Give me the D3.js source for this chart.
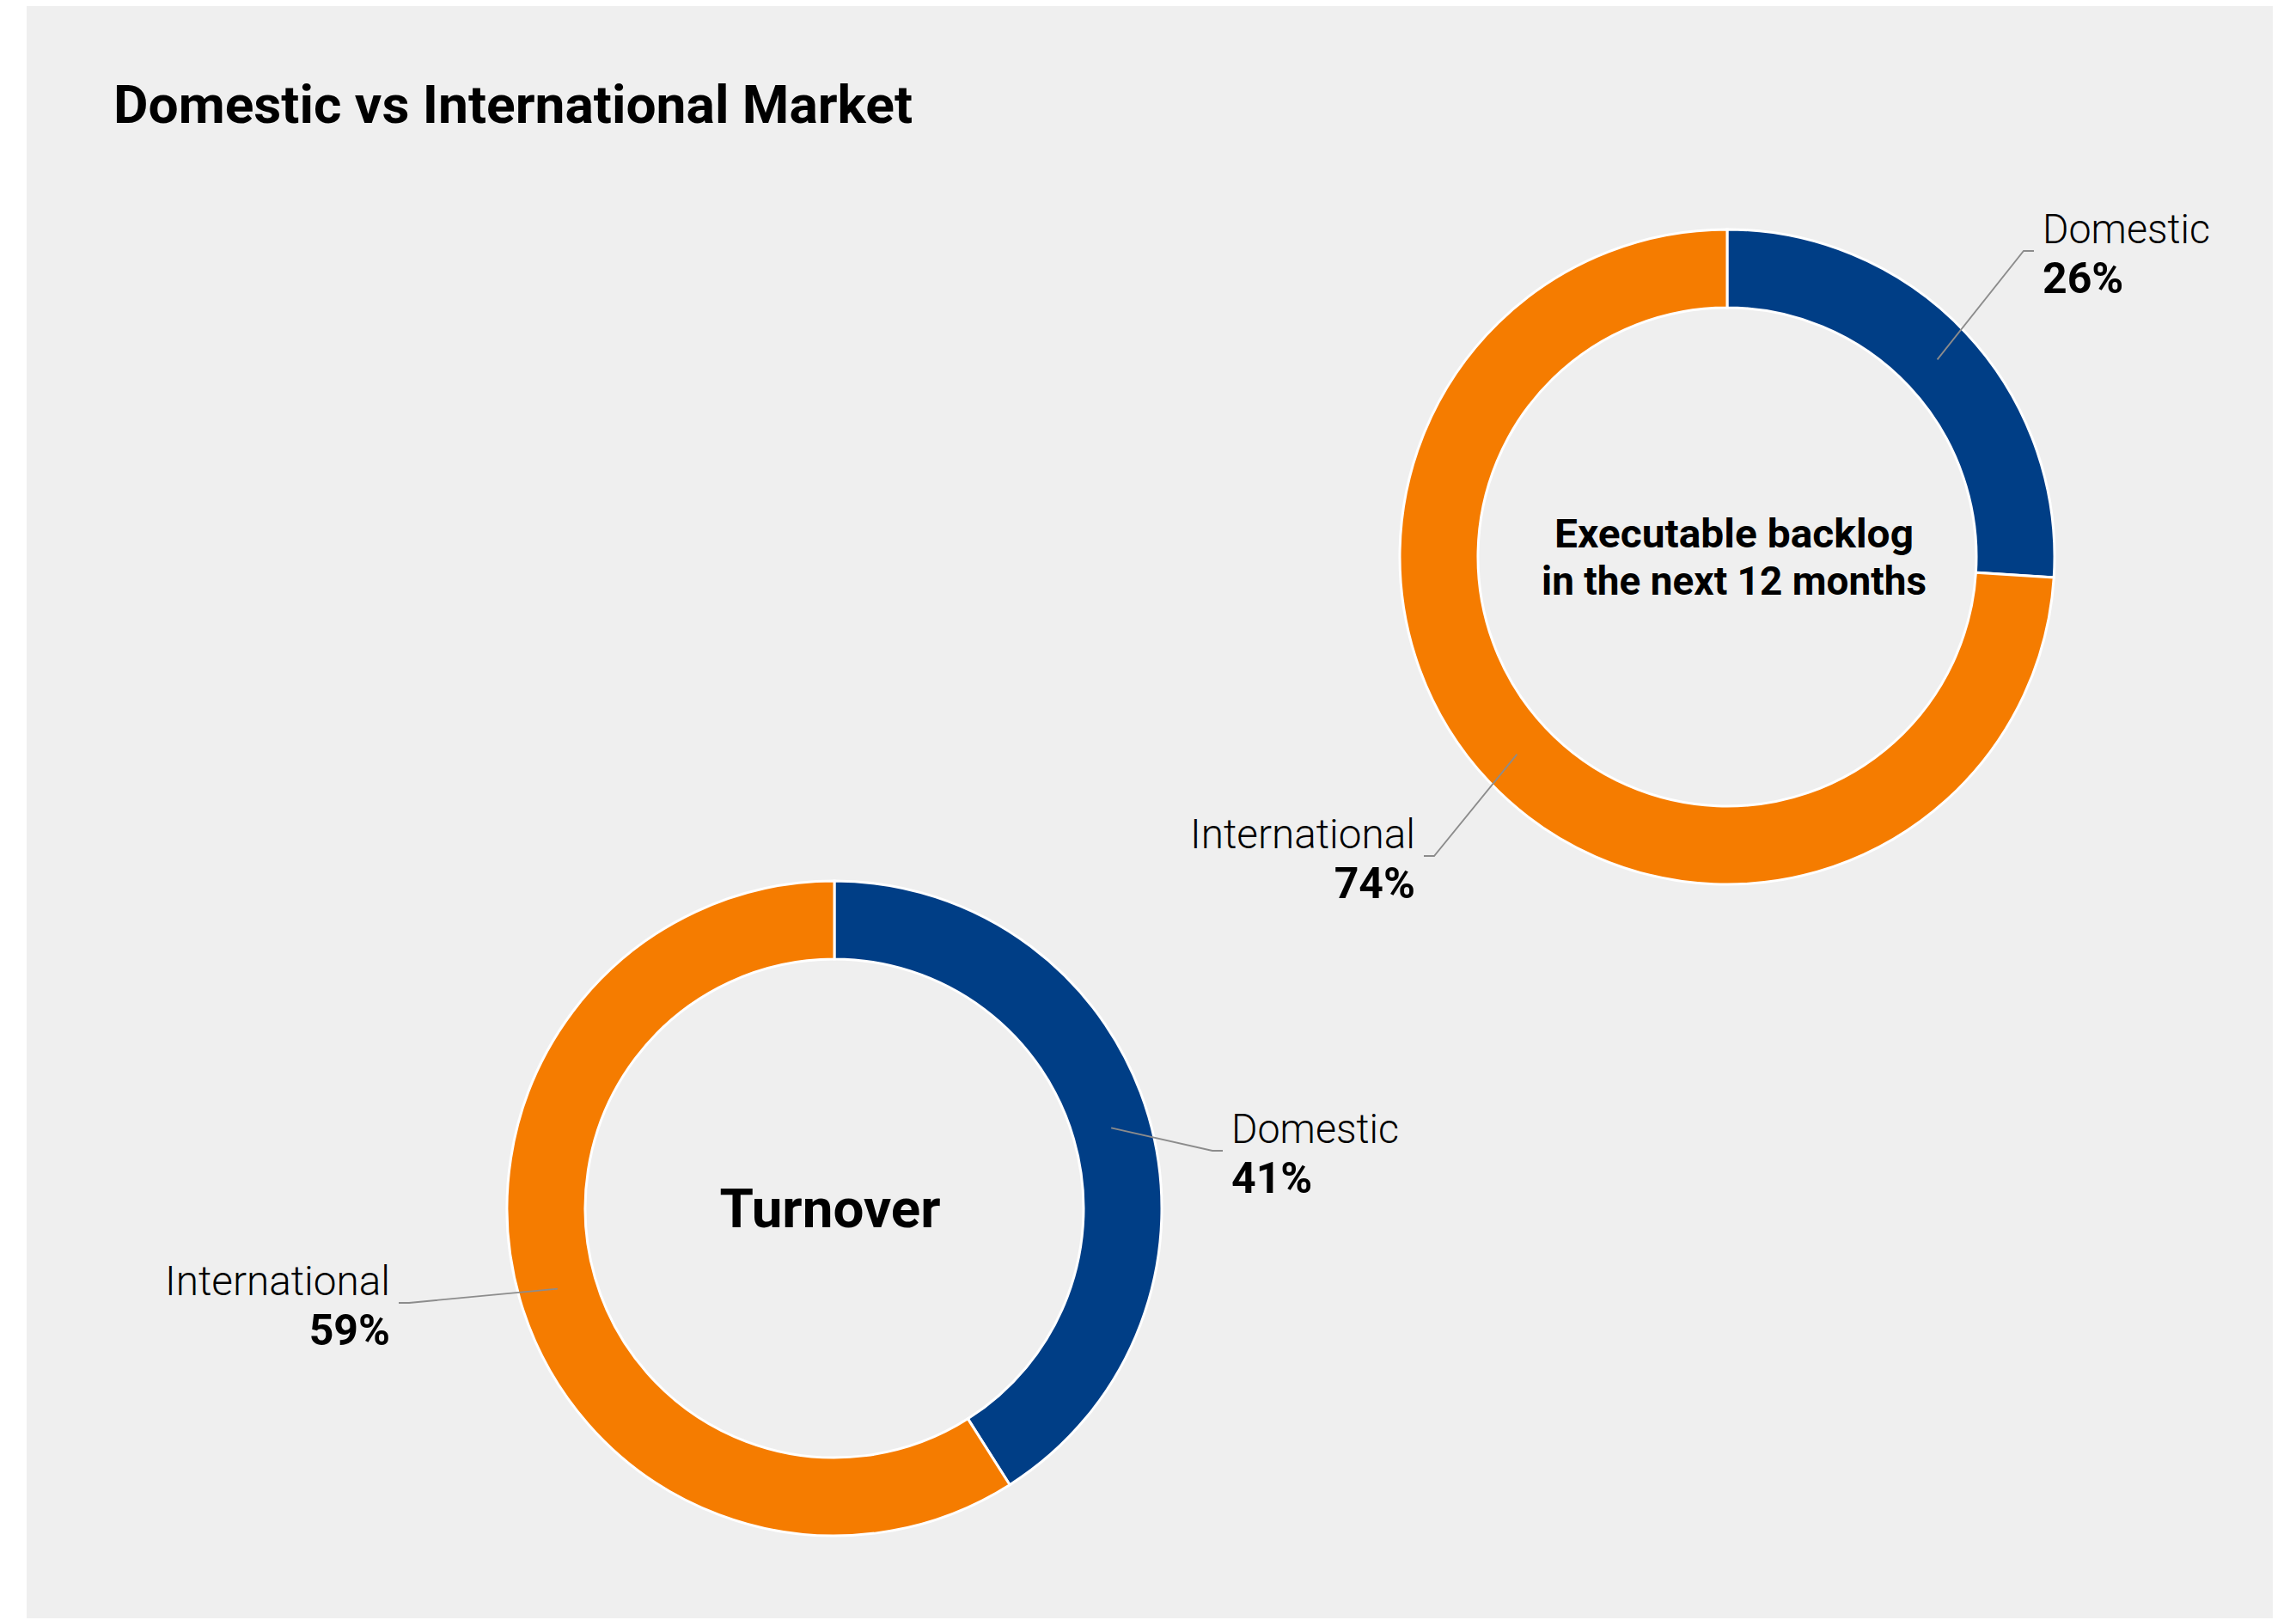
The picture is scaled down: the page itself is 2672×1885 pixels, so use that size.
<!DOCTYPE html>
<html>
<head>
<meta charset="utf-8">
<script src="https://cdn.jsdelivr.net/npm/d3@7"></script>
<style>
  html, body { margin: 0; padding: 0; background: #ffffff; }
  svg { display: block; }
  text { font-family: "Roboto", "Noto Sans", "DejaVu Sans", sans-serif; }
</style>
</head>
<body>
<svg id="chart" width="2672" height="1885"></svg>
<script>
// ---------------- data ----------------
const chartTitle = "Domestic vs International Market";
const categories = ["Domestic", "International"];
const backlogValues = [26, 74];
const turnoverValues = [41, 59];
const backlogCenterLines = ["Executable backlog", "in the next 12 months"];
const turnoverCenterLines = ["Turnover"];
const colors = ["#003e86", "#f57c00"];

// ---------------- layout ----------------
const W = 2672, H = 1885;
const svg = d3.select("#chart");

svg.append("rect")
  .attr("x", 31).attr("y", 7)
  .attr("width", 2614).attr("height", 1876)
  .attr("fill", "#efefef");

function fit(sel, target) {
  sel.each(function () {
    const len = this.getComputedTextLength();
    if (len > 0 && target) {
      d3.select(this).attr("textLength", target).attr("lengthAdjust", "spacingAndGlyphs");
    }
  });
}

svg.append("text")
  .attr("x", 132).attr("y", 143)
  .attr("font-size", 61).attr("font-weight", 700)
  .attr("fill", "#000")
  .text(chartTitle)
  .call(fit, 930);

const color = d3.scaleOrdinal().domain(categories).range(colors);
const pie = d3.pie().sort(null).value(d => d.value);
const outerR = 381, innerR = 290;
const arc = d3.arc().innerRadius(innerR).outerRadius(outerR);
const midArc = d3.arc().innerRadius((innerR + outerR) / 2).outerRadius((innerR + outerR) / 2);

const donuts = [
  {
    values: backlogValues, cx: 2010, cy: 648,
    centerLines: backlogCenterLines, centerSize: 46, centerWidths: [418, 448], lineGap: 55, centerDx: 8,
    // label anchor offsets (text anchor x, category baseline y) relative to centre
    labels: [{ dx: 367, dy: -365, side: 1 }, { dx: -363, dy: 339, side: -1 }]
  },
  {
    values: turnoverValues, cx: 971, cy: 1406,
    centerLines: turnoverCenterLines, centerSize: 63, centerWidths: [257], lineGap: 0, centerDx: -5,
    labels: [{ dx: 462, dy: -76, side: 1 }, { dx: -517, dy: 101, side: -1 }]
  }
];

donuts.forEach(dn => {
  const data = categories.map((c, i) => ({ cat: c, value: dn.values[i] }));
  const arcs = pie(data);
  const g = svg.append("g").attr("transform", `translate(${dn.cx},${dn.cy})`);

  g.selectAll("path.slice")
    .data(arcs)
    .join("path")
    .attr("class", "slice")
    .attr("d", arc)
    .attr("fill", d => color(d.data.cat))
    .attr("stroke", "#ffffff")
    .attr("stroke-width", 3);

  // centre text
  const n = dn.centerLines.length;
  dn.centerLines.forEach((line, i) => {
    const capH = dn.centerSize * 0.711;
    const y = capH / 2 + (i - (n - 1) / 2) * dn.lineGap;
    g.append("text")
      .attr("x", dn.centerDx).attr("y", y)
      .attr("text-anchor", "middle")
      .attr("font-size", dn.centerSize).attr("font-weight", 700)
      .attr("fill", "#000")
      .text(line)
      .call(fit, dn.centerWidths[i]);
  });

  // labels with leader lines
  arcs.forEach((a, i) => {
    const lab = dn.labels[i];
    const [sx, sy] = midArc.centroid(a);
    const ey = lab.dy + 9;
    const elbowX = lab.dx - lab.side * 22;
    const tickX = lab.dx - lab.side * 10;
    g.append("polyline")
      .attr("points", `${sx},${sy} ${elbowX},${ey} ${tickX},${ey}`)
      .attr("fill", "none")
      .attr("stroke", "#8c8c8c")
      .attr("stroke-width", 1.8);

    const anchor = lab.side > 0 ? "start" : "end";
    g.append("text")
      .attr("x", lab.dx).attr("y", lab.dy)
      .attr("text-anchor", anchor)
      .attr("font-size", 48).attr("font-weight", 300)
      .attr("fill", "#000")
      .text(a.data.cat)
      .call(fit, a.data.cat === "Domestic" ? 195 : 262);
    g.append("text")
      .attr("x", lab.dx).attr("y", lab.dy + 58)
      .attr("text-anchor", anchor)
      .attr("font-size", 50).attr("font-weight", 700)
      .attr("fill", "#000")
      .text(a.data.value + "%");
  });
});
</script>
</body>
</html>
